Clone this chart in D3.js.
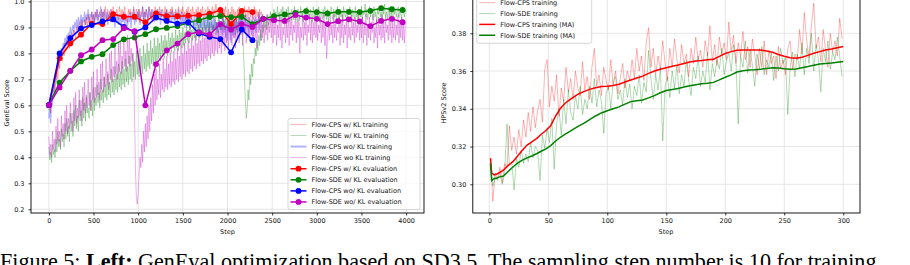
<!DOCTYPE html>
<html><head><meta charset="utf-8">
<script src="https://cdn.jsdelivr.net/npm/d3@7"></script>
<style>
html,body{margin:0;padding:0;background:#fff;}
svg{display:block;}
</style></head><body>
<svg id="c" width="910" height="265"></svg>
<script>
// ---------------- LEFT: GenEval ----------------
const trainStride = 10;           // training values every 10 steps, starting at step 0
const evalSteps = [0,120,240,360,480,600,720,840,960,1080,1200,1320,1440,1560,1680,1800,1920,2040,2160,2280,2400,2520,2640,2760,2880,3000,3120,3240,3360,3480,3600,3720,3840,3960];
const leftXTicks = [0,500,1000,1500,2000,2500,3000,3500,4000];
const leftYTicks = [0.2,0.3,0.4,0.5,0.6,0.7,0.8,0.9,1.0];

const cpsKlTrain = [
 .58,.61,.57,.64,.62,.66,.69,.65,.71,.73, .70,.76,.74,.78,.80,.77,.82,.79,.84,.81, .85,.83,.86,.82,.87,.85,.88,.84,.89,.87, .86,.90,.88,.91,.87,.92,.89,.93,.90,.88, .93,.91,.94,.90,.95,.92,.94,.91,.96,.93,
 .95,.92,.96,.94,.97,.93,.95,.96,.92,.97, .94,.96,.93,.98,.95,.93,.97,.94,.96,.92, .97,.95,.98,.93,.96,.94,.97,.95,.93,.98, .96,.94,.97,.93,.96,.98,.94,.95,.92,.97, .95,.97,.93,.96,.94,.98,.95,.93,.97,.96,
 .94,.97,.92,.96,.95,.98,.93,.96,.94,.97, .95,.93,.98,.96,.94,.97,.92,.96,.95,.98, .94,.96,.97,.93,.98,.95,.94,.97,.96,.93, .98,.95,.97,.94,.96,.93,.97,.95,.98,.94, .96,.93,.97,.95,.94,.98,.96,.93,.97,.95,
 .98,.94,.96,.93,.97,.95,.98,.94,.96,.97, .93,.98,.95,.96,.94,.97,.93,.98,.96,.95, .97,.94,.98,.95,.93,.97,.96,.94,.98,.95, .97,.93,.96,.98,.94,.97,.95,.99,.96,.94, .97,.95,.98,.94,.96,.93,.97,.95,.98,.96,
 .94,.97,.92,.96,.95,.98,.93,.97,.94,.96, .92,.97,.95,.98,.94,.96,.93,.97,.95,.98, .94,.96,.97,.93,.98,.95,.94,.97,.96,.93, .98,.95,.97,.94,.96,.93,.97,.95,.96,.94, .95];
const sdeKlTrain = [
 .44,.39,.42,.38,.45,.41,.43,.40,.47,.42, .50,.44,.47,.43,.51,.46,.49,.44,.53,.47, .55,.48,.52,.46,.57,.50,.54,.48,.58,.52, .60,.51,.56,.50,.62,.54,.58,.52,.63,.55, .61,.54,.64,.57,.59,.55,.65,.58,.62,.56,
 .67,.58,.63,.60,.68,.61,.65,.59,.70,.62, .66,.61,.71,.63,.68,.62,.72,.64,.69,.63, .74,.65,.70,.64,.75,.66,.72,.65,.76,.67, .73,.66,.77,.68,.74,.67,.78,.69,.75,.68, .79,.70,.76,.69,.80,.71,.77,.70,.81,.72,
 .78,.71,.82,.73,.79,.72,.83,.74,.80,.73, .84,.75,.81,.74,.85,.76,.82,.75,.86,.77, .83,.76,.86,.78,.84,.77,.87,.79,.85,.78, .87,.80,.85,.79,.88,.81,.86,.80,.88,.82, .86,.81,.89,.82,.87,.81,.89,.83,.88,.82,
 .90,.83,.88,.84,.91,.85,.89,.84,.91,.86, .89,.85,.92,.86,.90,.85,.92,.87,.91,.86, .93,.87,.90,.88,.93,.87,.91,.88,.94,.88, .92,.87,.93,.89,.91,.88,.94,.89,.92,.88, .94,.90,.92,.89,.95,.90,.93,.89,.94,.90,
 .93,.89,.95,.90,.92,.88,.94,.89,.93,.87, .94,.88,.92,.90,.94,.88,.91,.86,.80,.70, .62,.55,.58,.66,.62,.72,.68,.76,.71,.78, .76,.82,.79,.85,.81,.87,.83,.89,.85,.91, .88,.93,.90,.94,.89,.95,.91,.93,.96,.92,
 .95,.92,.97,.93,.96,.92,.98,.94,.96,.93, .97,.92,.98,.94,.95,.93,.97,.94,.98,.92, .96,.93,.97,.95,.93,.98,.94,.96,.92,.97, .95,.93,.98,.94,.96,.92,.97,.95,.93,.98, .94,.96,.93,.97,.95,.92,.98,.94,.96,.93,
 .97,.94,.98,.92,.96,.95,.93,.97,.94,.98, .95,.93,.97,.92,.96,.94,.98,.95,.93,.97, .94,.96,.92,.98,.95,.93,.97,.94,.96,.92, .98,.95,.94,.97,.93,.96,.95,.98,.94,.92, .97,.95,.93,.98,.94,.96,.93,.97,.95,.94,
 .98,.93,.96,.95,.99,.94,.97,.93,.96,.98, .94,.97,.95,.93,.98,.94,.96,.92,.97,.95, .98,.94,.96,.93,.97,.95,.99,.94,.96,.93, .98,.95,.97,.94,.96,.92,.98,.95,.97,.94, .96,.98,.94,.97,.95,.93,.98,.96,.94,.97,
 .96];
const cpsNoKlTrain = [
 .55,.60,.53,.63,.60,.67,.65,.71,.69,.74, .78,.75,.80,.78,.82,.80,.84,.82,.86,.83, .87,.85,.88,.86,.90,.87,.89,.91,.88,.92, .90,.93,.89,.94,.91,.92,.95,.90,.94,.92, .96,.91,.95,.93,.97,.92,.95,.94,.96,.92,
 .95,.91,.96,.93,.97,.92,.95,.94,.98,.93, .96,.92,.97,.95,.93,.96,.91,.95,.94,.97, .92,.95,.93,.96,.90,.94,.92,.95,.91,.93, .95,.90,.94,.92,.96,.91,.94,.93,.89,.95, .92,.96,.90,.94,.93,.97,.91,.95,.92,.96,
 .93,.97,.91,.95,.94,.98,.92,.96,.93,.97, .95,.92,.98,.94,.96,.93,.97,.95,.92,.96, .94,.97,.93,.95,.96,.91,.97,.94,.95,.92, .96,.93,.97,.91,.95,.94,.96,.92,.97,.93, .95,.91,.96,.94,.92,.97,.93,.95,.91,.96,
 .92,.95,.90,.94,.93,.96,.91,.94,.89,.95, .92,.93,.90,.95,.88,.94,.91,.92,.89,.95, .90,.93,.88,.94,.91,.89,.95,.90,.93,.87, .94,.90,.92,.88,.95,.89,.93,.87,.92,.90, .86,.93,.89,.91,.87,.94,.88,.92,.86,.91,
 .85,.92,.88,.90,.84,.93,.87,.91,.86,.94, .89,.92,.88,.95,.90,.93,.89,.96,.91,.94, .88,.95,.90,.92,.87,.94,.89,.93,.86,.92, .90,.95,.88,.93,.91,.96,.89,.94,.92,.95, .93];
const sdeNoKlTrain = [
 .48,.41,.45,.40,.50,.43,.47,.42,.52,.45, .55,.46,.50,.44,.56,.48,.53,.47,.58,.50, .60,.49,.55,.51,.61,.53,.57,.50,.63,.54, .65,.53,.59,.55,.66,.56,.62,.54,.67,.58, .69,.57,.63,.59,.70,.60,.65,.58,.71,.62,
 .73,.61,.67,.63,.74,.64,.69,.62,.76,.66, .77,.65,.71,.67,.78,.68,.73,.66,.80,.70, .81,.69,.75,.71,.82,.72,.77,.70,.84,.73, .85,.72,.79,.74,.85,.75,.81,.73,.87,.76, .86,.75,.82,.77,.80,.74,.55,.35,.24,.22,
 .26,.33,.40,.36,.45,.38,.50,.42,.53,.44, .56,.47,.60,.50,.63,.54,.68,.57,.72,.60, .74,.62,.70,.64,.76,.63,.72,.66,.78,.65, .74,.67,.79,.66,.76,.68,.80,.67,.77,.69, .81,.68,.78,.70,.82,.69,.79,.71,.83,.70,
 .80,.72,.84,.71,.81,.73,.85,.72,.82,.74, .86,.73,.83,.75,.87,.74,.84,.76,.88,.75, .85,.77,.89,.76,.86,.78,.90,.77,.87,.79, .90,.78,.88,.80,.91,.79,.88,.81,.92,.80, .89,.82,.92,.80,.90,.83,.93,.81,.90,.84,
 .93,.82,.91,.85,.94,.83,.90,.86,.93,.82, .91,.86,.95,.84,.92,.87,.94,.83,.91,.88, .95,.84,.92,.86,.94,.85,.91,.87,.95,.84, .93,.86,.94,.82,.92,.88,.95,.85,.93,.86, .94,.84,.91,.87,.95,.85,.92,.88,.94,.86,
 .95,.84,.92,.87,.94,.83,.91,.86,.95,.85, .93,.82,.90,.87,.94,.84,.92,.86,.95,.83, .93,.87,.94,.85,.91,.88,.95,.84,.92,.86, .94,.80,.90,.86,.95,.85,.92,.87,.94,.83, .91,.88,.95,.85,.93,.84,.92,.87,.94,.86,
 .93,.85,.91,.88,.94,.84,.92,.86,.95,.83, .90,.78,.86,.92,.85,.94,.87,.91,.84,.95, .86,.93,.85,.90,.88,.94,.83,.92,.86,.95, .84,.91,.87,.94,.82,.93,.86,.90,.85,.95, .87,.92,.84,.94,.86,.91,.88,.95,.85,.93,
 .86,.94,.84,.92,.87,.95,.83,.91,.86,.94, .85,.92,.88,.95,.84,.90,.86,.93,.82,.94, .87,.91,.85,.95,.86,.92,.84,.94,.88,.91, .85,.95,.87,.93,.84,.92,.86,.94,.85,.91, .87,.95,.84,.92,.86,.94,.85,.93,.84,.92,
 .92];

const cpsKlEval   = [.601,.781,.838,.872,.915,.913,.951,.941,.941,.920,.954,.943,.943,.945,.947,.953,.967,.913,.964,.959];
const sdeKlEval   = [.601,.687,.733,.769,.787,.797,.832,.854,.861,.874,.893,.898,.905,.918,.928,.940,.944,.940,.941,.913,.933,.943,.950,.956,.963,.959,.954,.960,.960,.959,.964,.974,.970,.967];
const cpsNoKlEval = [.601,.800,.859,.896,.909,.923,.931,.902,.883,.900,.938,.925,.915,.920,.877,.864,.855,.804,.892,.851];
const sdeNoKlEval = [.601,.669,.733,.793,.815,.851,.855,.897,.886,.600,.759,.812,.838,.874,.882,.873,.913,.892,.913,.902,.933,.928,.925,.948,.938,.933,.913,.924,.931,.923,.905,.925,.933,.920];

// ---------------- RIGHT: HPSv2 ----------------
const rawStart = 1, rawStride = 2; // raw values at steps 1,3,5,...,299
const rightXTicks = [0,50,100,150,200,250,300];
const rightYTicks = [0.30,0.32,0.34,0.36,0.38];
const cpsRaw = [
 .314,.291,.306,.303,.309, .301,.311,.309,.331,.318, .325,.316,.329,.320,.334, .325,.338,.328,.341,.330,
 .339,.345,.333,.361,.366, .341,.352,.344,.358,.336, .351,.344,.362,.349,.356, .345,.360,.351,.347,.365,
 .350,.357,.345,.362,.372, .352,.358,.347,.362,.355, .350,.366,.352,.360,.348, .356,.364,.351,.360,.355,
 .366,.356,.372,.360,.368, .355,.375,.383,.362,.372, .358,.368,.361,.376,.364, .355,.372,.362,.377,.366,
 .359,.374,.364,.369,.357, .372,.364,.378,.366,.371, .362,.376,.368,.384,.365, .374,.363,.378,.369,.375,
 .366,.386,.370,.379,.364, .375,.368,.381,.366,.373, .362,.377,.369,.358,.372, .362,.376,.358,.371,.364,
 .368,.356,.373,.361,.366, .358,.372,.376,.361,.369, .366,.382,.369,.391,.376, .367,.384,.396,.372,.378,
 .365,.382,.371,.362,.380, .370,.376,.368,.388,.377];
const sdeRaw = [
 .311,.299,.304,.302,.306, .300,.306,.332,.310,.312, .297,.314,.309,.318,.311, .316,.312,.322,.314,.320,
 .318,.302,.326,.319,.330, .322,.335,.308,.332,.340, .326,.345,.332,.350,.338, .334,.347,.340,.352,.337,
 .345,.340,.352,.343,.356, .341,.350,.344,.327,.348, .352,.340,.355,.357,.345, .350,.342,.356,.346,.353,
 .340,.352,.347,.358,.343, .354,.349,.371,.356,.345, .358,.350,.362,.323,.352, .357,.346,.360,.351,.363,
 .348,.358,.352,.366,.355, .347,.362,.356,.368,.352, .360,.354,.370,.350,.364, .357,.366,.361,.372,.358,
 .365,.370,.360,.374,.366, .332,.368,.362,.376,.359, .371,.363,.352,.369,.361, .373,.358,.366,.362,.370,
 .355,.368,.360,.372,.364, .367,.337,.362,.370,.357, .369,.361,.375,.358,.372, .364,.380,.360,.374,.366,
 .349,.372,.365,.376,.361, .370,.366,.378,.368,.357];
const maSteps = [1,2,4,6,8,12,16,20,24,28,32,36,40,44,48,52,56,60,64,68,72,76,80,85,90,95,100,105,110,115,120,125,130,135,140,145,150,155,160,165,170,175,180,185,190,195,200,205,210,215,220,225,230,235,240,245,250,255,260,265,270,275,280,285,290,295,300];
const cpsMA = [.3138,.3060,.3050,.3053,.3060,.3075,.3100,.3120,.3150,.3180,.3208,.3225,.3242,.3265,.3285,.3310,.3360,.3400,.3428,.3447,.3465,.3480,.3491,.3503,.3512,.3518,.3520,.3523,.3530,.3542,.3553,.3563,.3573,.3588,.3600,.3610,.3618,.3625,.3632,.3640,.3648,.3653,.3656,.3660,.3663,.3678,.3693,.3703,.3710,.3712,.3712,.3711,.3711,.3706,.3700,.3688,.3678,.3670,.3668,.3673,.3683,.3694,.3703,.3711,.3717,.3724,.3730];
const sdeMA = [.3110,.3020,.3030,.3032,.3038,.3044,.3068,.3092,.3112,.3128,.3140,.3150,.3162,.3175,.3188,.3205,.3228,.3248,.3264,.3279,.3295,.3310,.3323,.3343,.3362,.3378,.3390,.3400,.3410,.3425,.3438,.3443,.3447,.3458,.3470,.3485,.3497,.3502,.3508,.3515,.3522,.3528,.3533,.3536,.3540,.3553,.3567,.3580,.3595,.3602,.3605,.3607,.3610,.3614,.3617,.3616,.3612,.3609,.3611,.3618,.3624,.3631,.3637,.3640,.3643,.3647,.3650];

// ---------------- drawing ----------------
const svg = d3.select("#c");
const FS = 6.5, TF = '"DejaVu Sans", sans-serif';
const xL = d3.scaleLinear().domain([-200, 4200]).range([31, 424]);
const yL = d3.scaleLinear().domain([0.1857, 1.0325]).range([213, -7]);
const xR = d3.scaleLinear().domain([-14, 314.2]).range([472.8, 860]);
const yR = d3.scaleLinear().domain([0.2848, 0.40135]).range([213, -7]);

function panel(x, y, xt, yt, xf, yf, id) {
  const [x0, x1] = x.range(), [y0, y1] = y.range();
  const g = svg.append("g");
  g.append("g").selectAll("line").data(xt).join("line")
    .attr("x1", d => x(d)).attr("x2", d => x(d)).attr("y1", y1).attr("y2", y0)
    .attr("stroke", "#e0e0e0").attr("stroke-width", 0.8);
  g.append("g").selectAll("line").data(yt).join("line")
    .attr("y1", d => y(d)).attr("y2", d => y(d)).attr("x1", x0).attr("x2", x1)
    .attr("stroke", "#e0e0e0").attr("stroke-width", 0.8);
  svg.append("clipPath").attr("id", id).append("rect")
    .attr("x", x0).attr("y", y1).attr("width", x1 - x0).attr("height", y0 - y1);
  const data = svg.append("g").attr("clip-path", `url(#${id})`);
  const deco = () => {
    svg.append("rect").attr("x", x0).attr("y", y1).attr("width", x1 - x0).attr("height", y0 - y1)
      .attr("fill", "none").attr("stroke", "#000").attr("stroke-width", 0.9);
    const ax = svg.append("g").attr("transform", `translate(0,${y0})`)
      .call(d3.axisBottom(x).tickValues(xt).tickFormat(xf).tickSize(2.5).tickPadding(3));
    const ay = svg.append("g").attr("transform", `translate(${x0},0)`)
      .call(d3.axisLeft(y).tickValues(yt).tickFormat(yf).tickSize(2.5).tickPadding(4));
    [ax, ay].forEach(a => {
      a.select(".domain").remove();
      a.selectAll("line").attr("stroke", "#000").attr("stroke-width", 0.8);
      a.selectAll("text").attr("font-family", TF).attr("font-size", FS).attr("fill", "#111");
    });
  };
  return { data, deco };
}

// Left panel
const L = panel(xL, yL, leftXTicks, leftYTicks, d3.format("d"), d3.format(".1f"), "clipL");
const trainLine = d3.line().x((d, i) => xL(i * trainStride)).y(d => yL(d));
const evalLine = d3.line().x((d, i) => xL(evalSteps[i])).y(d => yL(d));
const trainSeries = [
  { v: cpsKlTrain, c: "#ff0000", w: 1 },
  { v: sdeKlTrain, c: "#008000", w: 1 },
  { v: cpsNoKlTrain, c: "#0000ff", w: 1.3 },
  { v: sdeNoKlTrain, c: "#bf00bf", w: 1 }
];
trainSeries.forEach(s => L.data.append("path").attr("d", trainLine(s.v))
  .attr("fill", "none").attr("stroke", s.c).attr("stroke-opacity", 0.3).attr("stroke-width", s.w));
const evalSeries = [
  { v: cpsKlEval, c: "#ff0000" },
  { v: sdeKlEval, c: "#008000" },
  { v: cpsNoKlEval, c: "#0000ff" },
  { v: sdeNoKlEval, c: "#bf00bf" }
];
evalSeries.forEach(s => {
  L.data.append("path").attr("d", evalLine(s.v)).attr("fill", "none").attr("stroke", s.c).attr("stroke-width", 1.5);
  L.data.append("g").selectAll("circle").data(s.v).join("circle")
    .attr("cx", (d, i) => xL(evalSteps[i])).attr("cy", d => yL(d)).attr("r", 2.9).attr("fill", s.c);
});
L.deco();

// Right panel
const R = panel(xR, yR, rightXTicks, rightYTicks, d3.format("d"), d3.format(".2f"), "clipR");
const rawLine = d3.line().x((d, i) => xR(rawStart + i * rawStride)).y(d => yR(d));
const maLine = d3.line().x((d, i) => xR(maSteps[i])).y(d => yR(d));
R.data.append("path").attr("d", rawLine(cpsRaw)).attr("fill", "none").attr("stroke", "#ff0000").attr("stroke-opacity", 0.3).attr("stroke-width", 1);
R.data.append("path").attr("d", rawLine(sdeRaw)).attr("fill", "none").attr("stroke", "#008000").attr("stroke-opacity", 0.3).attr("stroke-width", 1);
R.data.append("path").attr("d", maLine(cpsMA)).attr("fill", "none").attr("stroke", "#ff0000").attr("stroke-width", 1.5);
R.data.append("path").attr("d", maLine(sdeMA)).attr("fill", "none").attr("stroke", "#008000").attr("stroke-width", 1.5);
R.deco();

// Axis labels
function label(txt, x, y, rot) {
  const t = svg.append("text").text(txt).attr("font-family", TF).attr("font-size", FS)
    .attr("text-anchor", "middle").attr("fill", "#111");
  if (rot) t.attr("transform", `translate(${x},${y}) rotate(-90)`);
  else t.attr("x", x).attr("y", y);
}
label("Step", 227.5, 233.5);
label("Step", 666, 233.5);
label("GenEval Score", 8.5, 103, true);
label("HPSv2 Score", 446, 103, true);

// Legends
function legend(x, y, w, h, y0, dy, items) {
  const g = svg.append("g");
  g.append("rect").attr("x", x).attr("y", y).attr("width", w).attr("height", h).attr("rx", 2)
    .attr("fill", "#fff").attr("fill-opacity", 0.8).attr("stroke", "#cccccc").attr("stroke-width", 0.8);
  items.forEach((it, i) => {
    const yy = y0 + i * dy;
    g.append("line").attr("x1", x + 2.5).attr("x2", x + 18.5).attr("y1", yy).attr("y2", yy)
      .attr("stroke", it.c).attr("stroke-opacity", it.o).attr("stroke-width", it.w);
    if (it.m) g.append("circle").attr("cx", x + 10.5).attr("cy", yy).attr("r", 2.9).attr("fill", it.c);
    g.append("text").text(it.t).attr("x", x + 23.5).attr("y", yy).attr("dy", "0.35em")
      .attr("font-family", TF).attr("font-size", FS).attr("fill", "#111");
  });
}
legend(288, 118.5, 132, 91, 124.4, 11.08, [
  { t: "Flow-CPS w/ KL training", c: "#ff0000", o: 0.3, w: 1 },
  { t: "Flow-SDE w/ KL training", c: "#008000", o: 0.3, w: 1 },
  { t: "Flow-CPS wo/ KL training", c: "#0000ff", o: 0.3, w: 2 },
  { t: "Flow-SDE wo KL training", c: "#bf00bf", o: 0.3, w: 1 },
  { t: "Flow-CPS w/ KL evaluation", c: "#ff0000", o: 1, w: 1.5, m: true },
  { t: "Flow-SDE w/ KL evaluation", c: "#008000", o: 1, w: 1.5, m: true },
  { t: "Flow-CPS wo/ KL evaluation", c: "#0000ff", o: 1, w: 1.5, m: true },
  { t: "Flow-SDE wo/ KL evaluation", c: "#bf00bf", o: 1, w: 1.5, m: true }
]);
legend(476.7, -10, 115, 53.3, 2.7, 10.85, [
  { t: "Flow-CPS training", c: "#ff0000", o: 0.3, w: 1 },
  { t: "Flow-SDE training", c: "#008000", o: 0.3, w: 1 },
  { t: "Flow-CPS training (MA)", c: "#ff0000", o: 1, w: 1.5 },
  { t: "Flow-SDE training (MA)", c: "#008000", o: 1, w: 1.5 }
]);

// Caption
const cap = svg.append("text").attr("x", 0).attr("y", 269.3)
  .attr("font-family", '"Liberation Serif", "Times New Roman", serif').attr("font-size", 22.1).attr("fill", "#000");
cap.append("tspan").text("Figure 5: ");
cap.append("tspan").attr("font-weight", "bold").text("Left:");
cap.append("tspan").text(" GenEval optimization based on SD3.5. The sampling step number is 10 for training");
</script></body></html>
